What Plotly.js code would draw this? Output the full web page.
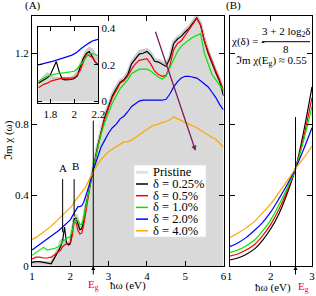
<!DOCTYPE html>
<html><head><meta charset="utf-8">
<script src="https://cdn.plot.ly/plotly-3.0.1.min.js"></script>
<style>html,body{margin:0;padding:0;background:#fff;}#chart{width:316px;height:296px;}</style>
</head><body><div id="chart"></div>
<script>
// ---- Panel A data (photon energy in eV) ----
const energyA = [1.0,1.1,1.2,1.3,1.4,1.5,1.6,1.7,1.75,1.8,1.85,1.9,1.95,2.0,2.05,2.1,2.15,2.2,2.25,2.3,2.35,2.4,
  2.5,2.6,2.7,2.8,2.9,3.0,3.1,3.2,3.3,3.4,3.5,3.6,3.7,3.8,3.9,4.0,4.1,4.2,4.3,4.4,4.5,4.6,4.7,4.8,4.9,5.0,5.1,5.2,5.3,5.4,5.5,5.6,5.7,5.8,5.9,6.0];
const pristine = [0.02,0.02,0.02,0.02,0.02,0.02,0.06,0.1,0.14,0.145,0.13,0.13,0.13,0.14,0.2,0.27,0.29,0.25,0.22,0.22,0.27,0.34,
  0.46,0.56,0.67,0.77,0.85,0.91,0.97,1.01,1.045,1.06,1.09,1.15,1.18,1.21,1.215,1.22,1.2,1.165,1.16,1.15,
  1.14,1.18,1.265,1.29,1.305,1.33,1.35,1.38,1.41,1.37,1.28,1.21,1.15,1.1,1.05,0.97];
const d025 = [0.02,0.025,0.025,0.02,0.015,0.012,0.05,0.09,0.11,0.145,0.22,0.13,0.118,0.125,0.2,0.265,0.27,0.23,0.205,0.21,0.26,0.33,
  0.45,0.55,0.66,0.76,0.84,0.9,0.96,1.0,1.035,1.05,1.08,1.14,1.17,1.195,1.2,1.21,1.19,1.155,1.15,1.135,
  1.125,1.17,1.255,1.28,1.295,1.32,1.34,1.37,1.40,1.36,1.27,1.2,1.14,1.09,1.04,0.96];
const d05 = [0.04,0.05,0.05,0.045,0.045,0.05,0.065,0.08,0.09,0.11,0.12,0.125,0.127,0.13,0.17,0.25,0.245,0.2,0.18,0.185,0.23,0.3,
  0.43,0.55,0.655,0.75,0.83,0.89,0.95,0.99,1.03,1.045,1.07,1.11,1.14,1.16,1.165,1.17,1.14,1.1,1.08,1.07,
  1.075,1.13,1.22,1.255,1.27,1.3,1.33,1.36,1.395,1.36,1.27,1.21,1.15,1.1,1.05,0.99];
const d10 = [0.06,0.075,0.09,0.105,0.09,0.095,0.1,0.11,0.12,0.14,0.15,0.155,0.16,0.165,0.2,0.245,0.265,0.255,0.235,0.235,0.27,0.33,
  0.44,0.55,0.65,0.74,0.81,0.87,0.92,0.96,1.0,1.025,1.05,1.085,1.1,1.11,1.11,1.11,1.1,1.08,1.065,1.055,
  1.07,1.12,1.17,1.21,1.24,1.26,1.275,1.29,1.3,1.31,1.2,1.14,1.08,1.05,1.02,0.99];
const d20 = [0.09,0.105,0.12,0.135,0.15,0.165,0.18,0.2,0.21,0.22,0.23,0.24,0.245,0.26,0.28,0.3,0.32,0.335,0.335,0.34,0.36,0.39,
  0.46,0.54,0.6,0.67,0.71,0.75,0.78,0.8,0.83,0.845,0.87,0.9,0.915,0.93,0.935,0.935,0.935,0.935,0.935,0.935,
  0.94,0.97,1.01,1.04,1.06,1.07,1.07,1.065,1.06,1.045,1.03,1.01,0.98,0.95,0.91,0.88];
const d40 = [0.15,0.16,0.175,0.19,0.205,0.225,0.245,0.265,0.275,0.285,0.295,0.305,0.315,0.325,0.34,0.36,0.375,0.39,0.4,0.415,0.43,0.445,
  0.49,0.53,0.57,0.6,0.625,0.645,0.66,0.675,0.685,0.7,0.7,0.71,0.725,0.74,0.76,0.775,0.785,0.795,0.8,0.81,
  0.815,0.825,0.84,0.83,0.82,0.81,0.8,0.79,0.78,0.765,0.75,0.74,0.725,0.715,0.69,0.67];

// ---- Inset data ----
const energyInset = [1.70,1.725,1.75,1.775,1.80,1.825,1.85,1.875,1.90,1.925,1.95,1.975,2.0,2.025,2.05,2.075,2.10,2.125,2.15,2.175,2.20];
const insetPristine = [0.10,0.115,0.135,0.15,0.14,0.13,0.125,0.125,0.125,0.125,0.128,0.13,0.14,0.16,0.2,0.245,0.275,0.29,0.28,0.25,0.225];
const insetD025 = [0.10,0.11,0.12,0.13,0.145,0.18,0.218,0.16,0.122,0.118,0.118,0.12,0.125,0.14,0.19,0.235,0.262,0.272,0.245,0.215,0.20];
const insetD05 = [0.075,0.085,0.095,0.10,0.11,0.115,0.12,0.125,0.127,0.128,0.127,0.127,0.13,0.145,0.17,0.215,0.255,0.25,0.24,0.215,0.20];
const insetD10 = [0.11,0.12,0.13,0.138,0.143,0.148,0.152,0.155,0.155,0.158,0.16,0.162,0.165,0.18,0.2,0.225,0.245,0.262,0.262,0.258,0.25];
const insetD20 = [0.20,0.205,0.21,0.213,0.216,0.22,0.225,0.23,0.235,0.24,0.245,0.252,0.26,0.27,0.285,0.3,0.31,0.32,0.33,0.335,0.34];

// ---- Panel B model curves ----
const energyB = [1.0,1.2,1.4,1.6,1.8,2.0,2.2,2.4,2.6,2.8,3.0];
const modelD025 = [0.034,0.045,0.065,0.095,0.145,0.21,0.295,0.41,0.55,0.76,1.01];
const modelD05 = [0.056,0.068,0.09,0.12,0.17,0.235,0.32,0.425,0.55,0.73,0.95];
const modelD10 = [0.075,0.09,0.113,0.145,0.197,0.26,0.345,0.44,0.55,0.71,0.90];
const modelD20 = [0.109,0.13,0.16,0.2,0.245,0.305,0.38,0.46,0.55,0.66,0.78];
const modelD40 = [0.16,0.185,0.215,0.25,0.3,0.35,0.415,0.48,0.55,0.61,0.675];

// ---- labels ----
const legendNames = ['Pristine','δ = 0.25%','δ = 0.5%','δ = 1.0%','δ = 2.0%','δ = 4.0%'];
const seriesColors = ['#e2e2e2','#000000','#ff0000','#00e600','#0000ff','#ffa500'];
const xTicksA = [1,2,3,4,5,6];
const yTicks = [0,0.4,0.8,1.2];
const yTickText = ['0','0.4','0.8','1.2'];
const xTicksB = [1,2,3];
const xTicksInset = [1.8,2.0,2.2];
const xTickTextInset = ['1.8','2','2.2'];
const yTicksInset = [0,0.2,0.4];
const yTickTextInset = ['0','0.2','0.4'];
const Eg = 2.6;

const FONT = 'Liberation Serif, Times New Roman, serif';
const mainSeries = [d025,d05,d10,d20,d40];
const insetSeries = [insetD025,insetD05,insetD10,insetD20];
const modelSeries = [modelD025,modelD05,modelD10,modelD20,modelD40];

const traces = [];
traces.push({x:energyA,y:pristine,xaxis:'x',yaxis:'y',mode:'lines',fill:'tozeroy',fillcolor:'#d9d9d9',
  line:{color:'#cccccc',width:3},showlegend:false,hoverinfo:'skip'});
mainSeries.forEach((s,i)=>traces.push({x:energyA,y:s,xaxis:'x',yaxis:'y',mode:'lines',
  line:{color:seriesColors[i+1],width:1.2},showlegend:false}));
modelSeries.forEach((s,i)=>traces.push({x:energyB,y:s,xaxis:'x2',yaxis:'y2',mode:'lines',
  line:{color:seriesColors[i+1],width:1.2,shape:'spline'},showlegend:false}));
traces.push({x:energyInset,y:insetPristine,xaxis:'x3',yaxis:'y3',mode:'lines',fill:'tozeroy',fillcolor:'#d9d9d9',
  line:{color:'#cccccc',width:3},showlegend:false});
insetSeries.forEach((s,i)=>traces.push({x:energyInset,y:s,xaxis:'x3',yaxis:'y3',mode:'lines',
  line:{color:seriesColors[i+1],width:1.2},showlegend:false}));

const axBase = {showline:true,linecolor:'#000',linewidth:1,mirror:'ticks',ticks:'inside',ticklen:5,
  tickcolor:'#000',showgrid:false,zeroline:false,tickfont:{family:FONT,size:11,color:'#000'}};

// paper helpers: plot area 32..312 px horizontally, 16..266 px vertically
const L=32,W=280,B=266,H=250;
const px = v => (v-L)/W;
const py = v => (B-v)/H;

function txt(text,x,y,opts){
  return Object.assign({text:text,xref:'paper',yref:'paper',x:px(x),y:py(y),xanchor:'center',yanchor:'middle',
    showarrow:false,font:{family:FONT,size:11,color:'#000'}},opts||{});
}

const shapes = [
  {type:'line',xref:'x',yref:'y',x0:Eg,x1:Eg,y0:0,y1:0.82,line:{color:'#000',width:1}},
  {type:'line',xref:'x2',yref:'y2',x0:Eg,x1:Eg,y0:0,y1:0.84,line:{color:'#000',width:1}},
  {type:'line',xref:'x',yref:'y',x0:1.8,x1:1.8,y0:0.19,y1:0.49,line:{color:'#000',width:1}},
  {type:'line',xref:'x',yref:'y',x0:2.1,x1:2.1,y0:0.28,y1:0.49,line:{color:'#000',width:1}},
  {type:'line',xref:'paper',yref:'paper',x0:px(262),x1:px(310),y0:py(41.7),y1:py(41.7),line:{color:'#000',width:1}},
  {type:'rect',xref:'paper',yref:'paper',x0:px(134),x1:px(206),y0:py(237),y1:py(165),fillcolor:'#fff',line:{color:'#dddddd',width:0.6}}
];
const annotations = [
  txt('(A)',33,6),
  txt('(B)',233,6),
  txt('ℑm χ (ω)',8,140,{textangle:-90}),
  txt('ħω (eV)',128,285),
  txt('ħω (eV)',273,287),
  {text:'',xref:'x',yref:'y',x:Eg,y:0,ax:0,ay:10,showarrow:true,arrowhead:2,arrowsize:0.8,arrowwidth:1,arrowcolor:'#000'},
  {text:'',xref:'x2',yref:'y2',x:Eg,y:0,ax:0,ay:10,showarrow:true,arrowhead:2,arrowsize:0.8,arrowwidth:1,arrowcolor:'#000'},
  {text:'E<sub>g</sub>',xref:'x',yref:'paper',x:Eg,y:py(285),xanchor:'center',yanchor:'middle',showarrow:false,font:{family:FONT,size:11,color:'#ff0000'}},
  txt('E<sub>g</sub>',296,287,{xanchor:'left',font:{family:FONT,size:11,color:'#ff0000'}}),
  {text:'A',xref:'x',yref:'y',x:1.8,y:0.55,xanchor:'center',yanchor:'middle',showarrow:false,font:{family:FONT,size:11}},
  {text:'B',xref:'x',yref:'y',x:2.14,y:0.565,xanchor:'center',yanchor:'middle',showarrow:false,font:{family:FONT,size:11}},
  {text:'',xref:'x',yref:'y',axref:'x',ayref:'y',x:5.27,y:0.65,ax:4.21,ay:1.33,showarrow:true,arrowhead:2,arrowsize:0.8,arrowwidth:1.3,arrowcolor:'#7a1f5c'},
  txt('χ(δ) = -',229,41.7,{xanchor:'left'}),
  txt('3 + 2 log<sub>2</sub>δ',286,31.5),
  txt('8',286,49),
  txt('ℑm χ(E<sub>g</sub>) ≈ 0.55',271,61)
];
legendNames.forEach((name,i)=>{
  const yy = 172.3 + i*11.7;
  shapes.push({type:'line',xref:'paper',yref:'paper',x0:px(136),x1:px(148),y0:py(yy),y1:py(yy),
    line:{color:seriesColors[i],width:i===0?3:1.5}});
  annotations.push(txt(name,151,yy,{xanchor:'left',font:{family:FONT,size:12.5,color:'#000'}}));
});

const layout = {
  width:316,height:296,margin:{l:32,r:4,t:16,b:30},
  paper_bgcolor:'#fff',plot_bgcolor:'#fff',showlegend:false,
  font:{family:FONT,size:11,color:'#000'},
  xaxis:Object.assign({},axBase,{domain:[0,px(223.5)],range:[1,6],tickvals:xTicksA,anchor:'y'}),
  yaxis:Object.assign({},axBase,{domain:[0,1],range:[0,1.41],tickvals:yTicks,ticktext:yTickText,anchor:'x'}),
  xaxis2:Object.assign({},axBase,{domain:[px(229.5),1],range:[1,3],tickvals:xTicksB,anchor:'y2'}),
  yaxis2:Object.assign({},axBase,{domain:[0,1],range:[0,1.41],tickvals:yTicks,showticklabels:false,anchor:'x2'}),
  xaxis3:Object.assign({},axBase,{domain:[px(38.3),px(98.3)],range:[1.7,2.2],tickvals:xTicksInset,ticktext:xTickTextInset,ticklen:4,anchor:'y3'}),
  yaxis3:Object.assign({},axBase,{domain:[py(103.3),py(27.3)],range:[-0.01,0.405],tickvals:yTicksInset,ticktext:yTickTextInset,side:'right',ticklen:4,anchor:'x3'}),
  shapes:shapes,annotations:annotations
};
Plotly.newPlot('chart',traces,layout,{displayModeBar:false,staticPlot:true});
</script></body></html>
